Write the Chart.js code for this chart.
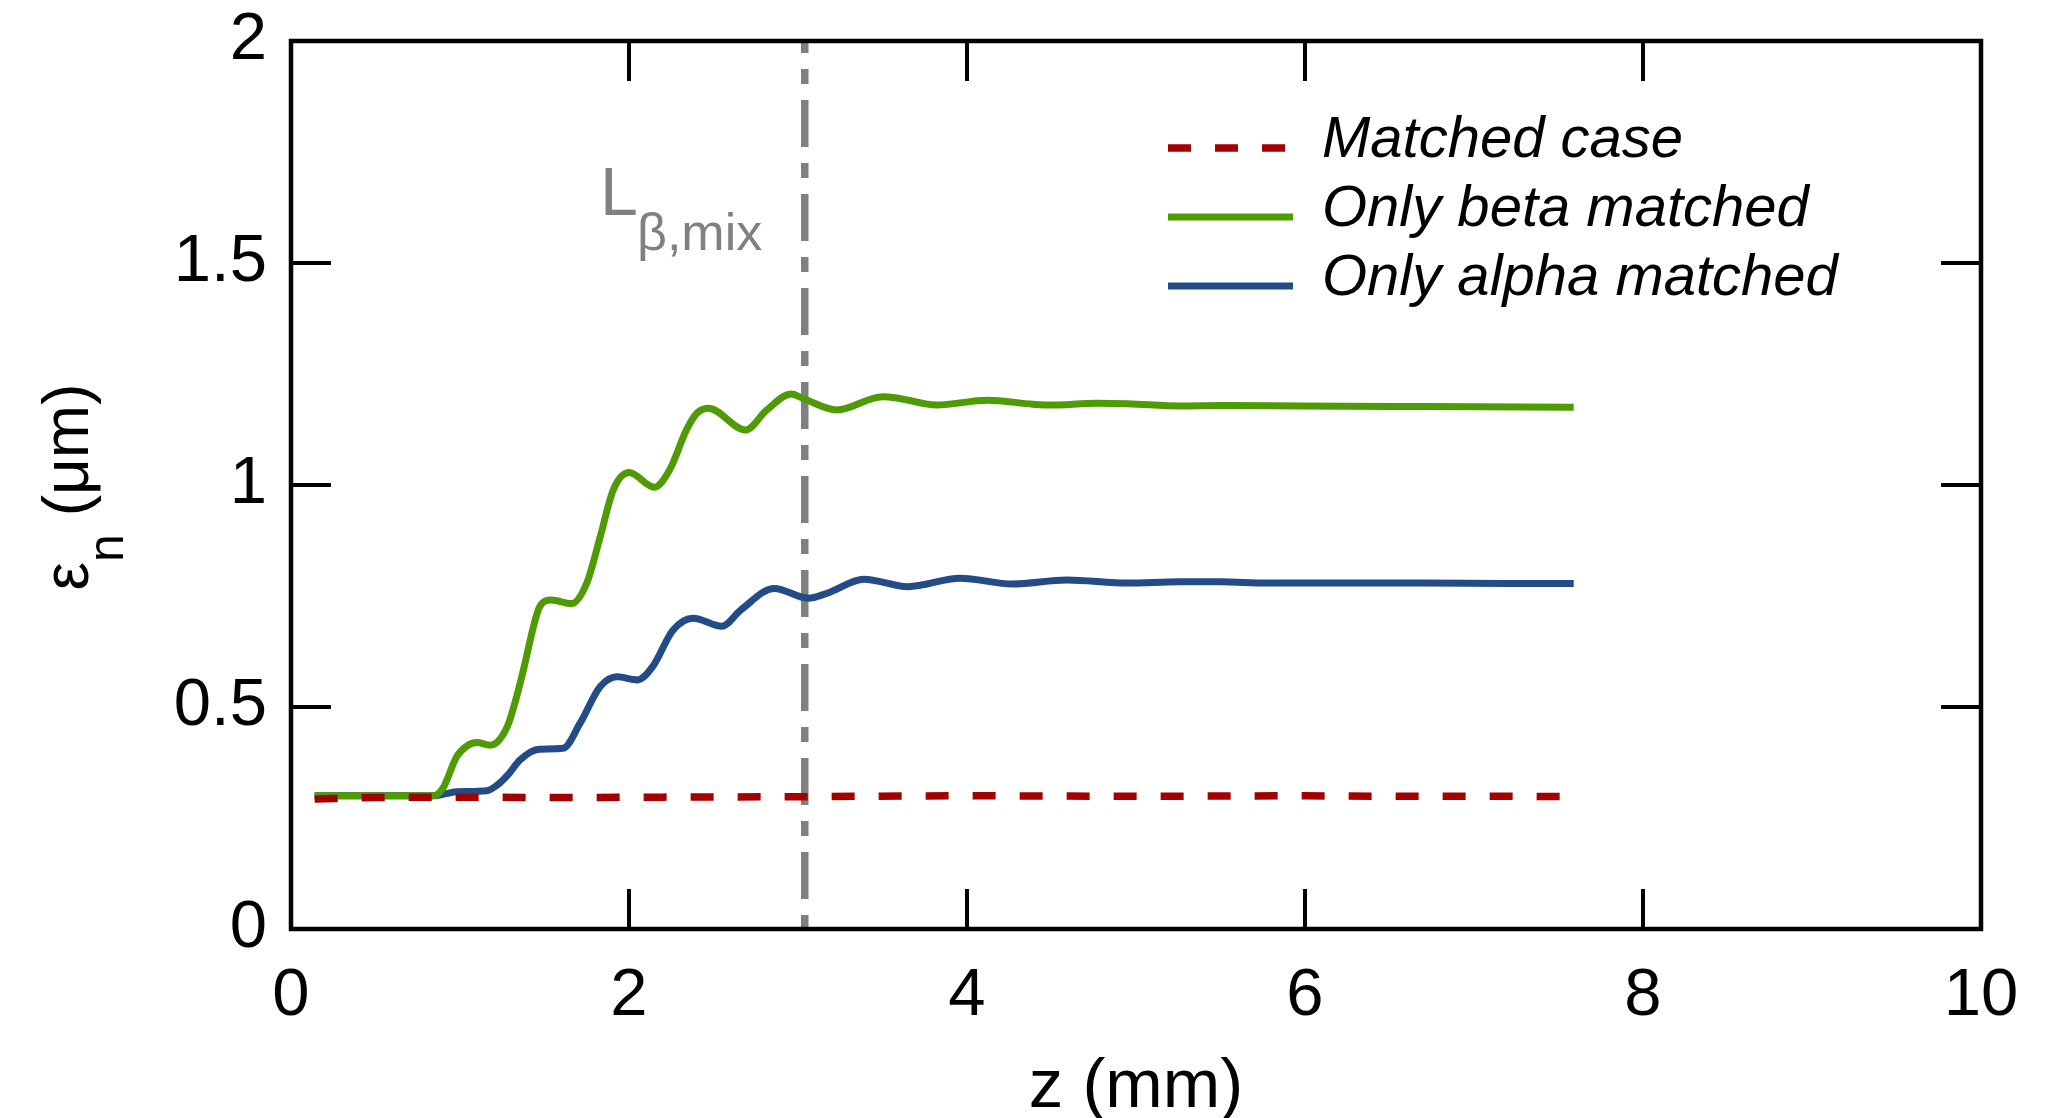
<!DOCTYPE html>
<html>
<head>
<meta charset="utf-8">
<script src="https://cdn.jsdelivr.net/npm/chart.js@4.4.1/dist/chart.umd.min.js"></script>
<style>
  html, body { margin: 0; padding: 0; background: #fff; }
  #wrap { width: 2057px; height: 1118px; position: relative; }
</style>
</head>
<body>
<div id="wrap"><canvas id="emitChart"></canvas></div>
<script>
// valores (z em mm, emitância em µm)
const zMatched   = [0.14, 0.5, 1.0, 1.6, 2.2, 3.0, 4.0, 5.0, 6.0, 6.4, 7.0, 7.59];
const epsMatched = [0.293, 0.296, 0.297, 0.296, 0.297, 0.298, 0.300, 0.299, 0.300, 0.299, 0.299, 0.298];

const zBeta   = [0.14, 0.84, 0.90, 0.98, 1.04, 1.10, 1.18, 1.28, 1.335, 1.375, 1.434, 1.47, 1.54, 1.66, 1.75, 1.83, 1.907, 2.00, 2.15, 2.24, 2.34, 2.40, 2.47, 2.69, 2.815, 2.96, 3.04, 3.23, 3.50, 3.60, 3.82, 4.12, 4.39, 4.49, 4.77, 4.95, 5.26, 5.50, 5.97, 6.50, 7.00, 7.59];
const epsBeta = [0.300, 0.300, 0.318, 0.388, 0.412, 0.420, 0.414, 0.456, 0.523, 0.583, 0.680, 0.725, 0.741, 0.733, 0.779, 0.884, 0.989, 1.028, 0.995, 1.034, 1.124, 1.161, 1.173, 1.124, 1.169, 1.205, 1.193, 1.169, 1.199, 1.195, 1.180, 1.191, 1.182, 1.180, 1.184, 1.183, 1.178, 1.179, 1.178, 1.177, 1.176, 1.175];

const zAlpha   = [0.14, 0.84, 0.92, 0.98, 1.16, 1.22, 1.29, 1.355, 1.47, 1.61, 1.71, 1.83, 1.93, 2.05, 2.14, 2.26, 2.38, 2.55, 2.66, 2.86, 3.06, 3.17, 3.39, 3.65, 3.96, 4.27, 4.59, 4.95, 5.26, 5.50, 5.77, 6.20, 6.70, 7.20, 7.59];
const epsAlpha = [0.300, 0.300, 0.305, 0.309, 0.3115, 0.324, 0.350, 0.381, 0.405, 0.407, 0.463, 0.546, 0.568, 0.561, 0.591, 0.673, 0.700, 0.682, 0.718, 0.767, 0.745, 0.756, 0.788, 0.771, 0.790, 0.777, 0.786, 0.779, 0.782, 0.782, 0.779, 0.779, 0.779, 0.778, 0.778];

// linha vertical L_beta,mix
const zMix   = [3.04, 3.04];
const epsMix = [2, 0];

const seriesNames = ['Matched case', 'Only beta matched', 'Only alpha matched'];
const xTicks = [0, 2, 4, 6, 8, 10];
const yTicks = [0, 0.5, 1, 1.5, 2];

const FONT = '"Liberation Sans", Arial, Helvetica, sans-serif';

function toPoints(xs, ys) {
  return xs.map((x, i) => ({ x: x, y: ys[i] }));
}

// moldura, ticks para dentro, legenda e rótulos
const frameAndLabels = {
  id: 'frameAndLabels',
  afterDatasetsDraw(chart) {
    const { ctx, chartArea: a, scales: { x, y } } = chart;
    ctx.save();
    ctx.strokeStyle = '#000';
    ctx.lineWidth = 4.5;
    ctx.strokeRect(a.left, a.top, a.right - a.left, a.bottom - a.top);

    ctx.lineWidth = 4;
    const tl = 40;
    ctx.beginPath();
    xTicks.forEach(v => {
      const px = x.getPixelForValue(v);
      ctx.moveTo(px, a.bottom); ctx.lineTo(px, a.bottom - tl);
      ctx.moveTo(px, a.top); ctx.lineTo(px, a.top + tl);
    });
    yTicks.forEach(v => {
      const py = y.getPixelForValue(v);
      ctx.moveTo(a.left, py); ctx.lineTo(a.left + tl, py);
      ctx.moveTo(a.right, py); ctx.lineTo(a.right - tl, py);
    });
    ctx.stroke();

    // legenda
    const ds = chart.data.datasets;
    const lx0 = 1168, lx1 = 1293, tx = 1322;
    const rows = [148, 217, 286];
    ctx.font = 'italic 58px ' + FONT;
    ctx.fillStyle = '#000';
    ctx.textBaseline = 'alphabetic';
    ctx.textAlign = 'left';
    for (let i = 0; i < 3; i++) {
      ctx.save();
      ctx.strokeStyle = ds[i].borderColor;
      ctx.lineWidth = ds[i].borderWidth;
      ctx.setLineDash(ds[i].borderDash || []);
      ctx.lineCap = 'butt';
      ctx.beginPath();
      ctx.moveTo(lx0, rows[i]); ctx.lineTo(lx1, rows[i]);
      ctx.stroke();
      ctx.restore();
      ctx.fillText(seriesNames[i], tx, rows[i] + 9);
    }

    // rótulo L_beta,mix
    ctx.fillStyle = '#808080';
    ctx.font = '68px ' + FONT;
    ctx.fillText('L', 600, 215);
    ctx.font = '52px ' + FONT;
    ctx.fillText('\u03b2,mix', 637, 250);

    // título do eixo x
    ctx.fillStyle = '#000';
    ctx.font = '69px ' + FONT;
    ctx.textAlign = 'center';
    ctx.fillText('z (mm)', (a.left + a.right) / 2, 1107);

    // título do eixo y (com subscrito)
    ctx.textAlign = 'left';
    ctx.translate(88, (a.top + a.bottom) / 2 + 2);
    ctx.rotate(-Math.PI / 2);
    ctx.font = '64px ' + FONT;
    const w1 = ctx.measureText('\u03b5').width;
    const w3 = ctx.measureText(' (\u03bcm)').width;
    ctx.font = '50px ' + FONT;
    const w2 = ctx.measureText('n').width;
    const x0 = -(w1 + w2 + w3) / 2;
    ctx.font = '64px ' + FONT;
    ctx.fillText('\u03b5', x0, 0);
    ctx.font = '50px ' + FONT;
    ctx.fillText('n', x0 + w1, 35);
    ctx.font = '64px ' + FONT;
    ctx.fillText(' (\u03bcm)', x0 + w1 + w2, 0);
    ctx.restore();
  }
};

const ctx = document.getElementById('emitChart').getContext('2d');
const emitChart = new Chart(ctx, {
  type: 'scatter',
  data: {
    datasets: [
      {
        label: seriesNames[0],
        data: toPoints(zMatched, epsMatched),
        showLine: true,
        borderColor: '#a40000',
        borderWidth: 7.5,
        borderDash: [23, 24],
        pointRadius: 0,
        cubicInterpolationMode: 'monotone'
      },
      {
        label: seriesNames[1],
        data: toPoints(zBeta, epsBeta),
        showLine: true,
        borderColor: '#4f9b05',
        borderWidth: 7,
        pointRadius: 0,
        cubicInterpolationMode: 'monotone'
      },
      {
        label: seriesNames[2],
        data: toPoints(zAlpha, epsAlpha),
        showLine: true,
        borderColor: '#224b87',
        borderWidth: 7,
        pointRadius: 0,
        cubicInterpolationMode: 'monotone'
      },
      {
        label: 'Lmix',
        data: toPoints(zMix, epsMix),
        showLine: true,
        borderColor: '#808080',
        borderWidth: 7.5,
        borderDash: [47, 16, 15, 16],
        borderDashOffset: 35,
        pointRadius: 0,
        tension: 0
      }
    ]
  },
  options: {
    responsive: true,
    maintainAspectRatio: false,
    animation: false,
    layout: { padding: { left: 0, top: 41, right: 76, bottom: 0 } },
    plugins: {
      legend: { display: false },
      tooltip: { enabled: false }
    },
    scales: {
      x: {
        type: 'linear',
        min: 0,
        max: 10,
        afterBuildTicks: (s) => { s.ticks = xTicks.map(v => ({ value: v })); },
        afterFit: (s) => { s.height = 189; s.paddingLeft = 0; s.paddingRight = 0; },
        grid: { display: false, drawTicks: false },
        border: { display: false },
        ticks: { color: '#000', font: { family: FONT, size: 67 }, padding: 27, maxRotation: 0,
                 callback: (v) => String(v) }
      },
      y: {
        type: 'linear',
        min: 0,
        max: 2,
        afterBuildTicks: (s) => { s.ticks = yTicks.map(v => ({ value: v })); },
        afterFit: (s) => { s.width = 291; s.paddingTop = 0; s.paddingBottom = 0; },
        grid: { display: false, drawTicks: false },
        border: { display: false },
        ticks: { color: '#000', font: { family: FONT, size: 67 }, padding: 24,
                 callback: (v) => String(v) }
      }
    }
  },
  plugins: [frameAndLabels]
});
</script>
</body>
</html>
